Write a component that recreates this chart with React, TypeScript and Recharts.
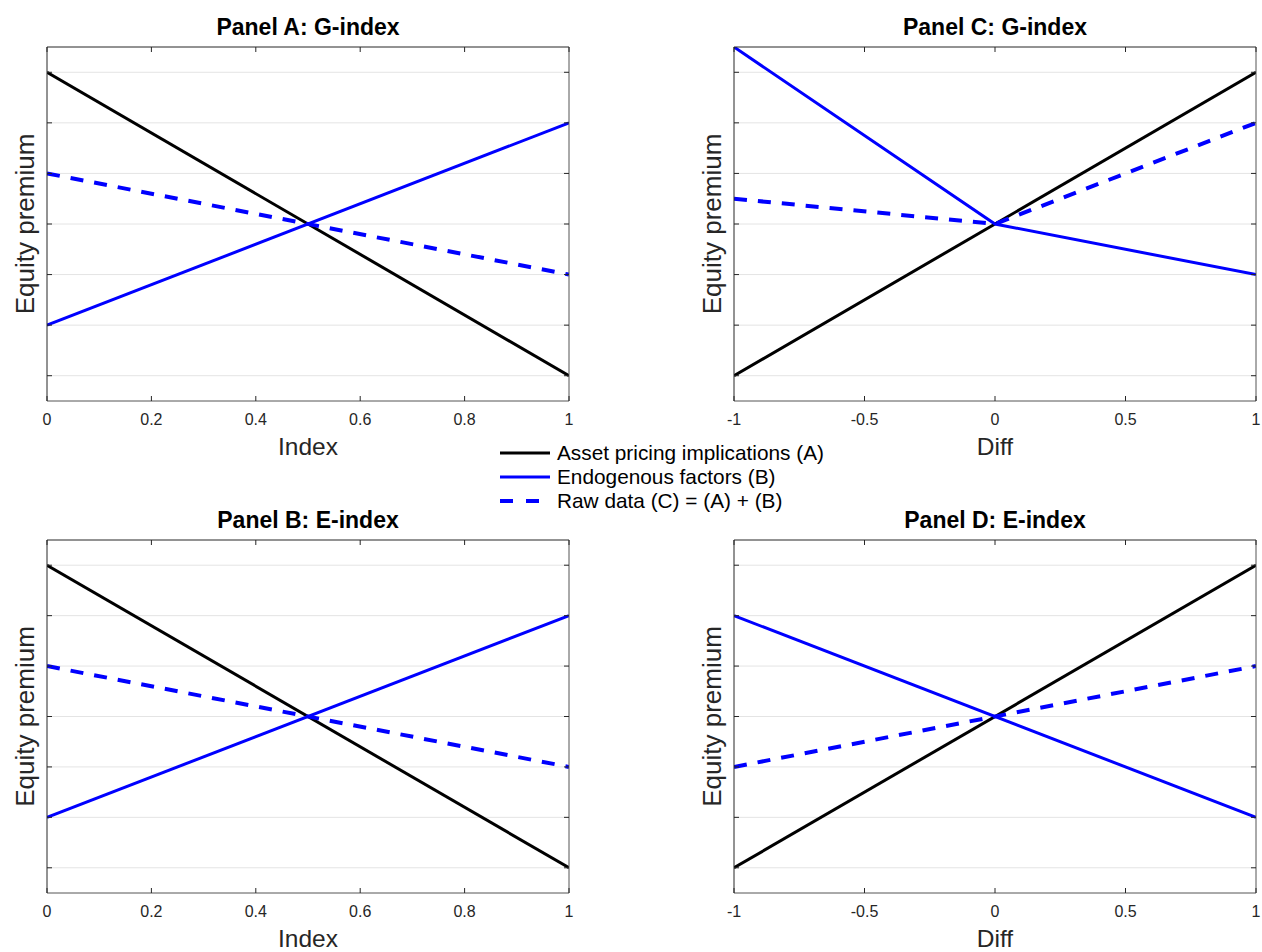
import React from 'react';
import { LineChart, Line, XAxis, YAxis, CartesianGrid } from 'recharts';

// ---- data ----
const panelAX = [0, 1];
const panelAAsset = [3, -3];
const panelAEndog = [-2, 2];
const panelARaw = [1, -1];

const panelBX = [0, 1];
const panelBAsset = [3, -3];
const panelBEndog = [-2, 2];
const panelBRaw = [1, -1];

const panelCX = [-1, 0, 1];
const panelCAsset = [-3, 0, 3];
const panelCEndog = [3.5, 0, -1];
const panelCRaw = [0.5, 0, 2];

const panelDX = [-1, 1];
const panelDAsset = [-3, 3];
const panelDEndog = [2, -2];
const panelDRaw = [-1, 1];

const indexTicks = [0, 0.2, 0.4, 0.6, 0.8, 1];
const indexTickLabels = ['0', '0.2', '0.4', '0.6', '0.8', '1'];
const diffTicks = [-1, -0.5, 0, 0.5, 1];
const diffTickLabels = ['-1', '-0.5', '0', '0.5', '1'];
const yTicks = [-3, -2, -1, 0, 1, 2, 3];
const yDomain = [-3.5, 3.5];

const seriesLabels = [
  'Asset pricing implications (A)',
  'Endogenous factors (B)',
  'Raw data (C) = (A) + (B)',
];
const panelTitles = ['Panel A: G-index', 'Panel B: E-index', 'Panel C: G-index', 'Panel D: E-index'];
const yTitle = 'Equity premium';

const FONT = '"Liberation Sans", Arial, Helvetica, sans-serif';
const AX = '#262626';
const BLUE = '#0000ff';

function rows(xs: number[], a: number[], b: number[], c: number[]) {
  return xs.map((x, i) => ({ x, asset: a[i], endog: b[i], raw: c[i] }));
}

type PanelProps = {
  left: number;
  top: number;
  w: number;
  h: number;
  data: any[];
  xDomain: number[];
  xTicks: number[];
  xLabels: string[];
};

const ML = 60, MT = 50, MR = 40, MB = 50;

function Panel({ left, top, w, h, data, xDomain, xTicks, xLabels }: PanelProps) {
  const bottomTick = (p: any) => {
    const i = xTicks.indexOf(p.payload.value);
    return (
      <g>
        <line x1={p.x} x2={p.x} y1={p.y} y2={p.y - 5} stroke={AX} strokeWidth={1} />
        <text x={p.x} y={p.y + 24} textAnchor="middle" fontSize={16} fill={AX} fontFamily={FONT}>
          {xLabels[i]}
        </text>
      </g>
    );
  };
  const topTick = (p: any) => (
    <line x1={p.x} x2={p.x} y1={p.y} y2={p.y + 5} stroke={AX} strokeWidth={1} />
  );
  const leftTick = (p: any) => (
    <line x1={p.x} x2={p.x + 5} y1={p.y} y2={p.y} stroke={AX} strokeWidth={1} />
  );
  const rightTick = (p: any) => (
    <line x1={p.x} x2={p.x - 5} y1={p.y} y2={p.y} stroke={AX} strokeWidth={1} />
  );
  return (
    <div style={{ position: 'absolute', left: left - ML - 1, top: top - MT - 1 }}>
      <LineChart
        width={w + ML + MR + 2}
        height={h + MT + MB + 2}
        data={data}
        margin={{ left: ML, top: MT, right: MR, bottom: MB }}
      >
        <CartesianGrid xAxisId="b" yAxisId="l" vertical={false} horizontalValues={yTicks} stroke="#e4e4e4" strokeWidth={1} />
        <XAxis
          xAxisId="b"
          type="number"
          dataKey="x"
          orientation="bottom"
          domain={xDomain}
          ticks={xTicks}
          interval={0}
          height={1}
          tickSize={0}
          tickMargin={0}
          tickLine={false}
          axisLine={{ stroke: '#555555' }}
          tick={bottomTick}
          allowDataOverflow
        />
        <XAxis
          xAxisId="t"
          type="number"
          dataKey="x"
          orientation="top"
          domain={xDomain}
          ticks={xTicks}
          interval={0}
          height={1}
          tickSize={0}
          tickMargin={0}
          tickLine={false}
          axisLine={{ stroke: AX }}
          tick={topTick}
          allowDataOverflow
        />
        <YAxis
          yAxisId="l"
          type="number"
          orientation="left"
          domain={yDomain}
          ticks={yTicks}
          interval={0}
          width={1}
          tickSize={0}
          tickMargin={0}
          tickLine={false}
          axisLine={{ stroke: AX }}
          tick={leftTick}
          allowDataOverflow
        />
        <YAxis
          yAxisId="r"
          type="number"
          orientation="right"
          domain={yDomain}
          ticks={yTicks}
          interval={0}
          width={1}
          tickSize={0}
          tickMargin={0}
          tickLine={false}
          axisLine={{ stroke: '#555555' }}
          tick={rightTick}
          allowDataOverflow
        />
        <Line
          xAxisId="b"
          yAxisId="l"
          type="linear"
          dataKey="asset"
          stroke="#000000"
          strokeWidth={3}
          dot={false}
          isAnimationActive={false}
        />
        <Line
          xAxisId="b"
          yAxisId="l"
          type="linear"
          dataKey="endog"
          stroke={BLUE}
          strokeWidth={3}
          dot={false}
          isAnimationActive={false}
        />
        <Line
          xAxisId="b"
          yAxisId="l"
          type="linear"
          dataKey="raw"
          stroke={BLUE}
          strokeWidth={4}
          strokeDasharray="13 11"
          dot={false}
          isAnimationActive={false}
        />
      </LineChart>
    </div>
  );
}

export default function App() {
  const W = 522;
  const pA = { left: 47, top: 47, w: W, h: 354 };
  const pB = { left: 47, top: 540, w: W, h: 353 };
  const pC = { left: 734, top: 47, w: W, h: 354 };
  const pD = { left: 734, top: 540, w: W, h: 353 };

  const panels = [
    { ...pA, data: rows(panelAX, panelAAsset, panelAEndog, panelARaw), xDomain: [0, 1], xTicks: indexTicks, xLabels: indexTickLabels, title: panelTitles[0], xTitle: 'Index' },
    { ...pB, data: rows(panelBX, panelBAsset, panelBEndog, panelBRaw), xDomain: [0, 1], xTicks: indexTicks, xLabels: indexTickLabels, title: panelTitles[1], xTitle: 'Index' },
    { ...pC, data: rows(panelCX, panelCAsset, panelCEndog, panelCRaw), xDomain: [-1, 1], xTicks: diffTicks, xLabels: diffTickLabels, title: panelTitles[2], xTitle: 'Diff' },
    { ...pD, data: rows(panelDX, panelDAsset, panelDEndog, panelDRaw), xDomain: [-1, 1], xTicks: diffTicks, xLabels: diffTickLabels, title: panelTitles[3], xTitle: 'Diff' },
  ];

  const legendX = 500;
  const legendRows = [453, 477, 501];

  return (
    <div style={{ position: 'absolute', left: 0, top: 0, width: 1262, height: 952, background: '#ffffff', overflow: 'hidden' }}>
      {panels.map((p, i) => (
        <Panel key={i} left={p.left} top={p.top} w={p.w} h={p.h} data={p.data} xDomain={p.xDomain} xTicks={p.xTicks} xLabels={p.xLabels} />
      ))}
      <svg width={1262} height={952} style={{ position: 'absolute', left: 0, top: 0, pointerEvents: 'none' }}>
        {panels.map((p, i) => {
          const cx = p.left + p.w / 2;
          const cy = p.top + p.h / 2;
          return (
            <g key={i} fontFamily={FONT}>
              <text x={cx} y={p.top - 12} textAnchor="middle" fontSize={23} fontWeight="bold" fill="#000">
                {p.title}
              </text>
              <text x={cx} y={p.top + p.h + 54} textAnchor="middle" fontSize={24.5} fill={AX}>
                {p.xTitle}
              </text>
              <text
                x={p.left - 13}
                y={cy}
                textAnchor="middle"
                fontSize={26}
                fill={AX}
                transform={`rotate(-90 ${p.left - 13} ${cy})`}
              >
                {yTitle}
              </text>
            </g>
          );
        })}
        <g fontFamily={FONT}>
          <line x1={legendX} x2={legendX + 50} y1={legendRows[0]} y2={legendRows[0]} stroke="#000" strokeWidth={3} />
          <line x1={legendX} x2={legendX + 50} y1={legendRows[1]} y2={legendRows[1]} stroke={BLUE} strokeWidth={3} />
          <line x1={legendX} x2={legendX + 50} y1={legendRows[2]} y2={legendRows[2]} stroke={BLUE} strokeWidth={4} strokeDasharray="13 13" />
          {seriesLabels.map((s, i) => (
            <text key={i} x={legendX + 57} y={legendRows[i] + 7} fontSize={20.8} fill="#000">
              {s}
            </text>
          ))}
        </g>
      </svg>
    </div>
  );
}
